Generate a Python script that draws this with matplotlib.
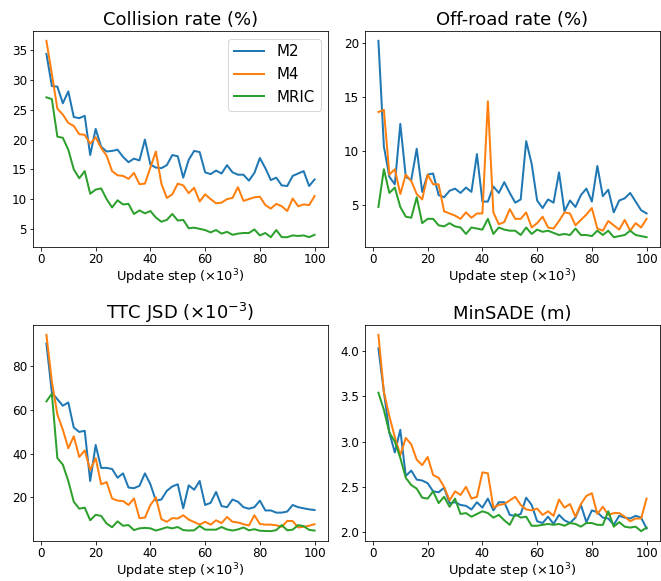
import matplotlib
matplotlib.use("Agg")
import matplotlib.pyplot as plt
import numpy as np

steps = list(range(2, 101, 2))

coll_m2 = [34.4, 29.0, 28.9, 26.1, 28.1, 23.8, 23.6, 24.0, 17.4, 21.8,
           18.8, 18.0, 18.1, 18.3, 17.1, 16.2, 16.8, 16.5, 20.0, 15.8,
           15.3, 15.2, 15.7, 17.4, 17.2, 13.6, 16.6, 18.1, 17.9, 14.5,
           14.2, 14.8, 14.3, 15.7, 14.5, 14.1, 14.1, 13.1, 14.4, 16.9,
           15.2, 13.2, 13.6, 12.3, 12.2, 13.9, 14.3, 14.7, 12.2, 13.3]
coll_m4 = [36.6, 31.0, 25.2, 24.2, 22.8, 22.3, 20.9, 20.8, 19.3, 20.4,
           18.6, 17.3, 14.7, 14.0, 13.9, 13.4, 14.4, 12.5, 12.6, 15.3,
           18.0, 12.6, 10.2, 10.8, 12.6, 12.3, 11.0, 11.9, 9.6, 10.8,
           10.0, 9.3, 9.4, 10.0, 10.2, 12.0, 9.7, 10.0, 10.3, 10.4,
           9.0, 8.4, 9.2, 8.8, 8.0, 10.1, 8.8, 9.1, 9.0, 10.5]
coll_mric = [27.1, 26.8, 20.5, 20.3, 18.3, 15.0, 13.5, 14.7, 10.9, 11.6,
             11.8, 10.0, 8.6, 9.8, 9.1, 9.2, 7.5, 8.1, 7.6, 8.0,
             6.9, 6.2, 6.5, 7.5, 6.4, 6.5, 5.1, 5.2, 5.0, 4.8,
             4.4, 4.8, 4.2, 4.5, 4.0, 4.2, 4.3, 4.3, 4.9, 3.9,
             4.3, 3.6, 4.8, 3.6, 3.6, 3.9, 3.8, 3.9, 3.6, 4.0]

off_m2 = [20.2, 10.4, 7.6, 6.9, 12.5, 7.6, 7.3, 10.2, 6.2, 7.8,
          7.9, 5.9, 5.7, 6.3, 6.5, 6.1, 6.6, 6.2, 9.7, 5.3,
          5.3, 6.7, 6.1, 7.1, 6.1, 5.2, 5.5, 10.9, 8.8, 5.4,
          4.7, 5.5, 5.2, 8.0, 4.4, 5.4, 4.8, 5.9, 6.5, 5.3,
          8.6, 5.8, 6.4, 4.3, 5.4, 5.6, 6.1, 5.3, 4.5, 4.2]
off_m4 = [13.6, 13.8, 7.8, 8.3, 6.0, 7.8, 7.2, 6.0, 5.5, 7.8,
          6.9, 6.9, 4.4, 4.2, 4.0, 3.7, 4.3, 3.8, 4.2, 4.2,
          14.6, 4.3, 3.2, 3.4, 4.6, 3.7, 3.7, 4.3, 2.9, 3.3,
          3.9, 2.9, 2.8, 3.5, 4.3, 4.2, 3.1, 3.6, 4.1, 4.7,
          2.8, 2.6, 3.5, 3.1, 2.7, 3.6, 2.6, 3.3, 2.9, 3.7]
off_mric = [4.8, 8.3, 6.1, 6.6, 4.8, 3.9, 3.8, 5.7, 3.3, 3.7,
            3.7, 3.1, 3.0, 3.3, 3.0, 2.9, 2.3, 2.9, 2.8, 2.7,
            3.7, 2.3, 2.9, 2.7, 2.6, 2.6, 2.2, 2.9, 2.3, 2.7,
            2.5, 2.6, 2.4, 2.2, 2.3, 2.2, 2.8, 2.2, 2.2, 2.1,
            2.6, 2.2, 2.6, 2.0, 2.1, 2.2, 2.6, 2.2, 2.1, 2.0]

ttc_m2 = [90.5, 68.0, 65.0, 62.0, 63.5, 52.0, 50.0, 50.5, 27.5, 44.0,
          33.5, 33.5, 33.0, 29.0, 31.0, 24.5, 24.2, 25.3, 31.0, 26.0,
          18.5, 19.0, 23.0, 25.0, 26.0, 15.0, 25.5, 23.5, 27.5, 16.5,
          17.5, 22.5, 16.0, 15.5, 19.0, 18.0, 15.5, 14.8, 15.5, 18.5,
          14.0, 14.0, 13.0, 13.0, 13.5, 16.5, 15.5, 15.0, 14.5, 14.2]
ttc_m4 = [94.5, 73.0, 58.0, 51.0, 42.5, 48.0, 38.5, 41.5, 32.5, 38.0,
          26.0, 27.0, 19.5, 18.5, 18.3, 16.5, 19.5, 10.5, 10.7, 16.5,
          20.0, 10.0, 8.8, 10.5, 10.3, 11.8, 9.8, 8.7, 7.5, 8.8,
          7.5, 9.5, 8.2, 11.0, 8.8, 8.5, 7.7, 7.1, 11.8, 7.8,
          7.5, 7.5, 7.2, 6.5, 9.2, 9.1, 6.2, 6.5, 7.0, 7.7]
ttc_mric = [64.0, 67.5, 38.0, 35.0, 27.5, 18.0, 14.8, 15.3, 9.5, 12.0,
            11.5, 8.0, 6.3, 9.0, 7.0, 7.3, 5.0, 5.8, 6.0, 5.8,
            4.8, 5.5, 6.3, 5.8, 6.4, 5.0, 4.8, 4.9, 6.9, 5.2,
            5.2, 5.2, 6.4, 5.3, 4.8, 5.3, 6.2, 4.9, 5.4, 4.7,
            4.6, 4.5, 5.0, 7.3, 4.9, 5.2, 7.3, 6.8, 5.1, 4.8]

ade_m2 = [4.03, 3.55, 3.10, 2.88, 3.13, 2.62, 2.68, 2.58, 2.57, 2.54,
          2.45, 2.44, 2.49, 2.32, 2.33, 2.30, 2.29, 2.25, 2.33, 2.27,
          2.37, 2.24, 2.33, 2.33, 2.19, 2.18, 2.20, 2.38, 2.30, 2.12,
          2.10, 2.17, 2.09, 2.19, 2.13, 2.10, 2.16, 2.30, 2.11, 2.24,
          2.22, 2.16, 2.15, 2.08, 2.18, 2.16, 2.15, 2.18, 2.16, 2.04]
ade_m4 = [4.18, 3.55, 3.28, 3.05, 2.85, 3.04, 2.97, 2.80, 2.74, 2.83,
          2.63, 2.60, 2.50, 2.35, 2.45, 2.41, 2.50, 2.37, 2.39, 2.66,
          2.65, 2.27, 2.30, 2.31, 2.35, 2.39, 2.30, 2.25, 2.24, 2.26,
          2.19, 2.23, 2.18, 2.36, 2.27, 2.31, 2.17, 2.31, 2.40, 2.43,
          2.20, 2.28, 2.19, 2.21, 2.21, 2.17, 2.12, 2.15, 2.15, 2.37]
ade_mric = [3.54, 3.35, 3.10, 3.00, 2.82, 2.60, 2.52, 2.48, 2.38, 2.37,
            2.45, 2.32, 2.39, 2.28, 2.37, 2.20, 2.21, 2.17, 2.20, 2.23,
            2.21, 2.16, 2.19, 2.13, 2.08, 2.20, 2.16, 2.17, 2.07, 2.07,
            2.08, 2.09, 2.08, 2.09, 2.07, 2.10, 2.09, 2.06, 2.10, 2.10,
            2.08, 2.08, 2.23, 2.06, 2.11, 2.06, 2.05, 2.06, 2.01, 2.05]

xticks = [0, 20, 40, 60, 80, 100]
yticks_coll = [5, 10, 15, 20, 25, 30, 35]
yticks_off = [5, 10, 15, 20]
yticks_ttc = [20, 40, 60, 80]
yticks_ade = [2.0, 2.5, 3.0, 3.5, 4.0]

titles = ["Collision rate (%)", "Off-road rate (%)",
          r"TTC JSD ($\times10^{-3}$)", "MinSADE (m)"]
labels = ["M2", "M4", "MRIC"]
panels = [(coll_m2, coll_m4, coll_mric), (off_m2, off_m4, off_mric),
          (ttc_m2, ttc_m4, ttc_mric), (ade_m2, ade_m4, ade_mric)]
yticks_all = [yticks_coll, yticks_off, yticks_ttc, yticks_ade]

DPI = 72
W, H = 661, 581
fig = plt.figure(figsize=(W / DPI, H / DPI), dpi=DPI)
boxes = [(33, 31, 328, 247), (365, 31, 660, 247),
         (33, 325, 328, 541), (365, 325, 660, 541)]
colors = ["#1f77b4", "#ff7f0e", "#2ca02c"]
for i, ((l, t, r, b), series, title, yt) in enumerate(
        zip(boxes, panels, titles, yticks_all)):
    ax = fig.add_axes([l / W, 1 - b / H, (r - l) / W, (b - t) / H])
    for s, lab, c in zip(series, labels, colors):
        ax.plot(steps, s, label=lab, color=c, lw=2)
    ax.set_title(title, fontsize=18)
    ax.set_xlabel(r"Update step ($\times10^3$)", fontsize=13, labelpad=1)
    ax.set_xticks(xticks)
    ax.set_yticks(yt)
    ax.tick_params(labelsize=12, length=3.5)
    ax.tick_params(axis="x", pad=2.5)
    ax.tick_params(axis="y", pad=2.5)
    if i == 0:
        ax.legend(loc="upper right", fontsize=15)
fig.savefig("out.png", dpi=DPI)
